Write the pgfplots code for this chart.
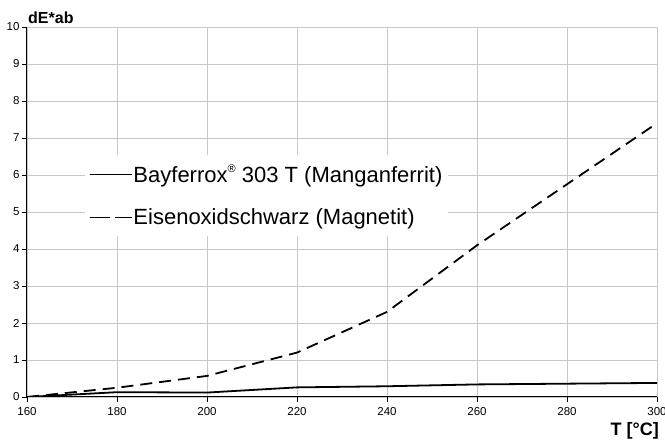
\documentclass[border=0pt]{standalone}
\usepackage{pgfplots}
\pgfplotsset{compat=1.18}
\usepackage{fontspec}
\setmainfont{Liberation Sans}
\definecolor{gridgray}{RGB}{200,200,200}
\begin{document}
\begin{tikzpicture}[x=1pt,y=1pt]
\path[use as bounding box] (-27,-44) rectangle (638,397);
\begin{axis}[
  at={(0,0)}, anchor=south west, scale only axis,
  width=630pt, height=370pt,
  xmin=160, xmax=300, ymin=0, ymax=10,
  xtick={160,180,...,300}, ytick={0,1,...,10},
  grid=major, major grid style={gridgray, line width=0.8pt},
  axis x line*=bottom, axis y line*=left,
  axis line style={black, line width=1pt, -},
  every outer x axis line/.append style={-},
  every outer y axis line/.append style={-},
  tick style={black, line width=0.8pt}, tick align=outside, major tick length=5pt,
  tick label style={font=\fontsize{11.5}{13}\selectfont},
  /pgf/number format/assume math mode=true,
  yticklabel style={xshift=1pt},
  xticklabel style={yshift=-2pt},
  xlabel={T [°C]}, ylabel={dE*ab},
  every axis y label/.style={at={(axis description cs:0,1)}, anchor=base west, xshift=1pt, yshift=3pt, font=\bfseries\fontsize{16}{18}\selectfont, inner sep=0pt},
  every axis x label/.style={at={(axis description cs:1,0)}, anchor=base east, xshift=2pt, yshift=-39pt, font=\bfseries\fontsize{18}{20}\selectfont, inner sep=0pt},
  legend style={at={(axis description cs:58/630,242/370)}, anchor=north west, draw=none, fill=white, font=\fontsize{22}{26}\selectfont, row sep=21pt, inner xsep=4pt, inner ysep=8pt, nodes={inner xsep=1.5pt}},
  legend cell align=left,
]
\addlegendimage{legend image code/.code={\draw[black, line width=0.8pt] (0pt,0pt) -- (42pt,0pt);}}
\addlegendentry{Bayferrox{\fontsize{11}{11}\selectfont\raisebox{0.85em}{®}} 303 T (Manganferrit)}
\addlegendimage{legend image code/.code={\draw[black, line width=0.8pt, dash pattern=on 20pt off 5pt] (0pt,0pt) -- (42pt,0pt);}}
\addlegendentry{Eisenoxidschwarz (Magnetit)}
\addplot[black, line width=1.8pt, forget plot] coordinates {
  (160,0) (180,0.13) (200,0.12) (220,0.26) (240,0.29) (260,0.34) (280,0.36) (300,0.38)};
\addplot[black, line width=1.8pt, dash pattern=on 12pt off 7pt, forget plot] coordinates {
  (160,0) (180,0.25) (200,0.57) (220,1.2) (240,2.3) (260,4.1) (280,5.75) (300,7.4)};
\end{axis}
\end{tikzpicture}
\end{document}
